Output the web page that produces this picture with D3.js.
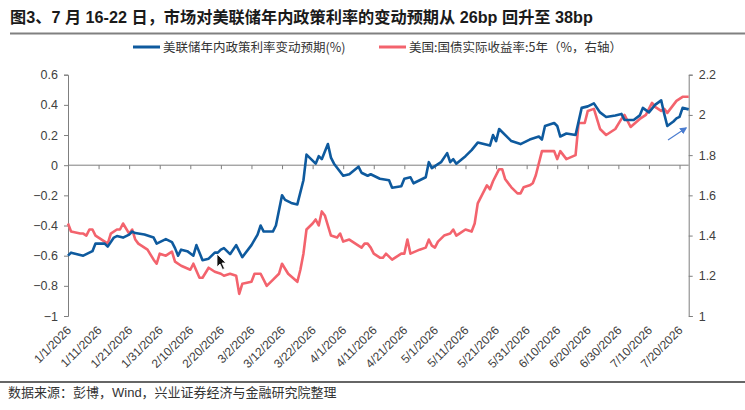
<!DOCTYPE html>
<html><head><meta charset="utf-8">
<script src="https://cdn.jsdelivr.net/npm/d3@7"></script>
<style>
html,body{margin:0;padding:0;background:#fff;}
svg{display:block;}
</style></head>
<body>
<svg id="c" width="745" height="410"></svg>
<script>
// ---- data (days counted from 2026-01-01) ----
const blueDay = [0,1,3,5,6,8,9,11,12,13,15,16,18,20,21,22,25,28,29,31,32,34,35,36,37,39,41,42,44,46,48,49,50,51,53,55,57,60,62,63,64,67,68,70,71,73,75,77,78,81,82,83,85,86,87,90,92,95,96,98,99,101,102,105,106,109,110,112,113,117,118,119,122,124,125,126,127,130,132,134,138,139,140,141,145,148,151,154,155,156,159,160,161,163,166,168,170,172,174,176,179,181,182,185,187,188,190,192,194,195,196,198,199,200,201,203];
const blueVal = [-0.60,-0.58,-0.59,-0.60,-0.59,-0.57,-0.52,-0.52,-0.52,-0.54,-0.48,-0.47,-0.48,-0.46,-0.44,-0.45,-0.46,-0.48,-0.52,-0.50,-0.49,-0.51,-0.55,-0.60,-0.56,-0.57,-0.60,-0.53,-0.63,-0.62,-0.58,-0.58,-0.56,-0.55,-0.59,-0.53,-0.61,-0.53,-0.46,-0.40,-0.44,-0.44,-0.40,-0.20,-0.23,-0.25,-0.26,-0.10,0.07,0.01,0.06,0.04,0.14,0.05,0.01,-0.07,-0.06,-0.01,-0.05,-0.07,-0.06,-0.08,-0.09,-0.10,-0.15,-0.14,-0.09,-0.08,-0.12,-0.08,0.02,-0.02,0.02,0.08,0.02,0.04,0.01,0.06,0.10,0.15,0.13,0.20,0.16,0.24,0.16,0.14,0.17,0.19,0.17,0.26,0.28,0.26,0.19,0.21,0.20,0.38,0.39,0.41,0.35,0.32,0.33,0.34,0.30,0.30,0.33,0.38,0.35,0.40,0.43,0.34,0.26,0.29,0.31,0.32,0.38,0.37];
const redDay = [0,1,4,5,6,7,8,9,11,13,14,16,17,18,20,21,22,23,26,28,29,30,32,34,35,37,40,41,43,44,46,48,50,51,53,55,56,57,60,61,63,65,67,69,70,72,75,76,77,78,80,81,82,83,84,86,88,89,90,92,94,96,97,98,99,100,101,102,103,104,106,107,109,110,111,112,115,117,118,119,120,121,123,125,126,127,128,130,132,133,134,135,137,138,139,141,142,143,145,147,148,149,151,152,153,155,156,159,160,161,163,166,167,169,170,172,174,176,179,181,182,184,187,189,191,192,194,195,196,199,201,203];
const redVal = [1.46,1.42,1.41,1.41,1.40,1.43,1.43,1.40,1.38,1.36,1.41,1.43,1.43,1.46,1.41,1.43,1.38,1.36,1.33,1.28,1.26,1.31,1.30,1.32,1.27,1.25,1.23,1.26,1.19,1.19,1.24,1.22,1.21,1.20,1.21,1.20,1.11,1.16,1.17,1.21,1.21,1.15,1.18,1.21,1.26,1.21,1.17,1.23,1.31,1.43,1.46,1.48,1.45,1.52,1.50,1.40,1.39,1.41,1.37,1.38,1.36,1.34,1.36,1.36,1.34,1.31,1.30,1.29,1.29,1.31,1.28,1.29,1.31,1.31,1.38,1.31,1.33,1.34,1.38,1.35,1.34,1.37,1.40,1.41,1.43,1.40,1.41,1.43,1.42,1.46,1.56,1.59,1.65,1.63,1.67,1.73,1.73,1.68,1.64,1.61,1.61,1.64,1.65,1.66,1.70,1.82,1.82,1.82,1.78,1.82,1.78,1.80,1.96,1.96,2.02,2.03,1.93,1.90,1.93,1.98,2.00,1.94,1.98,2.00,2.06,2.04,2.02,2.03,2.01,2.07,2.09,2.09];
const leftTicks = [0.6,0.4,0.2,0,-0.2,-0.4,-0.6,-0.8,-1];
const rightTicks = [2.2,2,1.8,1.6,1.4,1.2,1];
const titleText = "图3、7 月 16-22 日，市场对美联储年内政策利率的变动预期从 26bp 回升至 38bp";
const legendBlue = "美联储年内政策利率变动预期(%)";
const legendRed = "美国:国债实际收益率:5年（%，右轴）";
const sourceText = "数据来源：彭博，Wind，兴业证券经济与金融研究院整理";

// ---- drawing ----
const svg = d3.select("#c");
const start = new Date(2026,0,1);
const dayToDate = d => d3.timeDay.offset(start, d);
const L = 68, R = 688.7, T = 74.7, B = 316;
const x = d3.scaleTime().domain([start, dayToDate(203)]).range([L, R]);
const yL = d3.scaleLinear().domain([-1, 0.6]).range([B, T]);
const yR = d3.scaleLinear().domain([1, 2.2]).range([B, T]);
const axisColor = "#7f7f7f";
const numFont = "'Liberation Sans', Arial, sans-serif";
const cjkFont = "'Liberation Sans', 'Noto Sans CJK SC', sans-serif";

// title
svg.append("text").attr("x", 10).attr("y", 23)
  .attr("font-family", cjkFont).attr("font-weight", "bold").attr("font-size", 16.2)
  .attr("fill", "#1a1a1a").text(titleText);
svg.append("line").attr("x1", 10).attr("x2", 745).attr("y1", 33.5).attr("y2", 33.5)
  .attr("stroke", "#808080").attr("stroke-width", 2);

// legend
const lg = svg.append("g").attr("font-family", "'Noto Sans CJK SC', sans-serif").attr("font-size", 12.5).attr("fill", "#333");
lg.append("line").attr("x1", 133).attr("x2", 160).attr("y1", 47).attr("y2", 47).attr("stroke", "#0e5a9e").attr("stroke-width", 3);
lg.append("text").attr("x", 163).attr("y", 51.5).text(legendBlue);
lg.append("line").attr("x1", 379).attr("x2", 406).attr("y1", 47).attr("y2", 47).attr("stroke", "#f3636d").attr("stroke-width", 3);
lg.append("text").attr("x", 409).attr("y", 51.5).text(legendRed);

// left axis
const gl = svg.append("g").attr("transform", `translate(${L},0)`)
  .call(d3.axisLeft(yL).tickValues(leftTicks).tickSize(4).tickPadding(6).tickFormat(d => d3.format("")(+d.toFixed(1))));
// right axis
const gr = svg.append("g").attr("transform", `translate(${R},0)`)
  .call(d3.axisRight(yR).tickValues(rightTicks).tickSize(4).tickPadding(6).tickFormat(d => d3.format("")(+d.toFixed(1))));
[gl, gr].forEach(g => {
  g.select(".domain").attr("stroke", axisColor);
  g.selectAll(".tick line").attr("stroke", axisColor);
  g.selectAll("text").attr("font-family", numFont).attr("font-size", 12.5).attr("fill", "#404040");
});

// x axis at zero
const xTicks = d3.range(0, 201, 10).map(dayToDate);
const gx = svg.append("g").attr("transform", `translate(0,${yL(0)})`)
  .call(d3.axisBottom(x).tickValues(xTicks).tickSize(4).tickFormat(""));
gx.select(".domain").attr("stroke", axisColor).attr("d", `M${L},0H${R}`);
gx.selectAll(".tick line").attr("stroke", axisColor);

// x labels at bottom
const fmt = d3.timeFormat("%-m/%-d/%Y");
svg.append("g").selectAll("text").data(xTicks).join("text")
  .attr("transform", d => `translate(${x(d)+4},${B+15}) rotate(-45)`)
  .attr("text-anchor", "end")
  .attr("font-family", numFont).attr("font-size", 12).attr("fill", "#404040")
  .text(d => fmt(d));

// lines
const lineL = d3.line().x((d,i) => x(dayToDate(blueDay[i]))).y(d => yL(d));
const lineR = d3.line().x((d,i) => x(dayToDate(redDay[i]))).y(d => yR(d));
svg.append("path").attr("d", lineR(redVal)).attr("fill", "none").attr("stroke", "#f3636d").attr("stroke-width", 2.6).attr("stroke-linejoin", "round");
svg.append("path").attr("d", lineL(blueVal)).attr("fill", "none").attr("stroke", "#0e5a9e").attr("stroke-width", 2.6).attr("stroke-linejoin", "round");

// annotation arrow
const defs = svg.append("defs");
defs.append("marker").attr("id", "ah").attr("viewBox", "0 0 10 10").attr("refX", 8).attr("refY", 5)
  .attr("markerWidth", 6).attr("markerHeight", 6).attr("orient", "auto")
  .append("path").attr("d", "M0,0L10,5L0,10z").attr("fill", "#4a7cd0");
svg.append("line").attr("x1", 668).attr("y1", 140).attr("x2", 686).attr("y2", 128)
  .attr("stroke", "#4a7cd0").attr("stroke-width", 1.2).attr("marker-end", "url(#ah)");

// mouse cursor (as in the screenshot)
svg.append("path").attr("d", "M217,254 L217,267 L220,264 L222.5,269.5 L224.5,268.5 L222,263 L226,263 Z")
  .attr("fill", "#111").attr("stroke", "#fff").attr("stroke-width", 0.8);

// source
svg.append("line").attr("x1", 0).attr("x2", 745).attr("y1", 382).attr("y2", 382).attr("stroke", "#333").attr("stroke-width", 1.5);
svg.append("text").attr("x", 8).attr("y", 397).attr("font-family", cjkFont).attr("font-size", 13).attr("fill", "#333").text(sourceText);
</script>
</body></html>
